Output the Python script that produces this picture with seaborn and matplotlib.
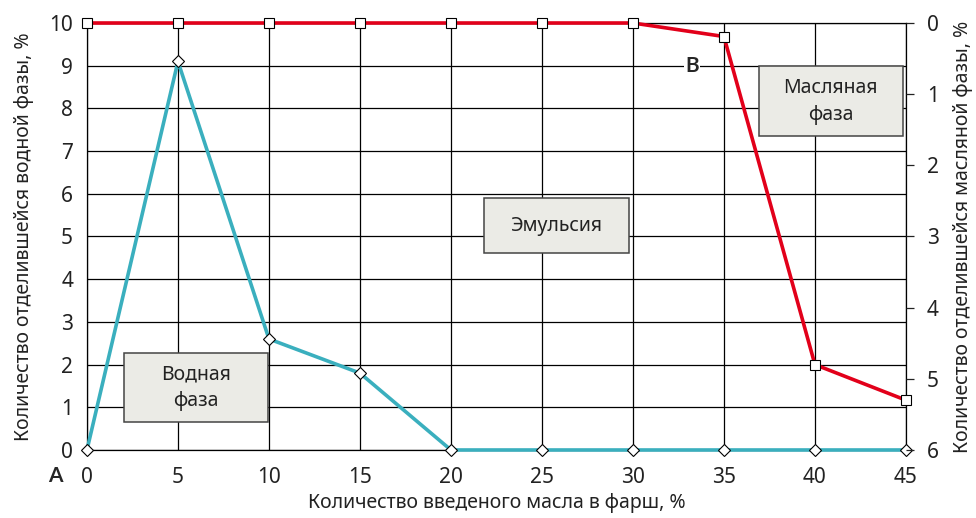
import matplotlib
matplotlib.use("Agg")
import matplotlib.pyplot as plt
import seaborn as sns
import pandas as pd
from matplotlib.patches import Rectangle

# данные графика
oil_added = [0, 5, 10, 15, 20, 25, 30, 35, 40, 45]
water_phase = [0, 9.1, 2.6, 1.8, 0, 0, 0, 0, 0, 0]
oil_phase = [0, 0, 0, 0, 0, 0, 0, 0.19, 4.8, 5.3]

left_ticks = list(range(0, 11))
right_ticks = list(range(0, 7))
x_ticks = list(range(0, 50, 5))

df = pd.DataFrame({'x': oil_added, 'water': water_phase, 'oil': oil_phase})

sns.set_style('white')
plt.rcParams['font.family'] = ['Noto Sans', 'DejaVu Sans']

cyan = '#3aafbe'
red = '#e2001a'
txt = '#222222'

fig = plt.figure(figsize=(9.76, 5.18), dpi=100)
ax = fig.add_axes([0.0891, 0.1313, 0.8391, 0.8243])

sns.lineplot(data=df, x='x', y='water', ax=ax, color=cyan, lw=2.6,
             marker='D', markersize=6, markerfacecolor='white',
             markeredgecolor='black', markeredgewidth=0.8, zorder=3, clip_on=False)

ax.set_xlim(0, 45)
ax.set_ylim(0, 10)
ax.set_xticks(x_ticks)
ax.set_yticks(left_ticks)
ax.grid(True, color='black', lw=0.9)
ax.tick_params(axis='both', length=0, labelsize=15, colors=txt)
ax.tick_params(axis='x', pad=12)
ax.tick_params(axis='y', pad=10)
for s in ax.spines.values():
    s.set_color('black')
    s.set_linewidth(0.9)
ax.set_xlabel('Количество введеного масла в фарш, %', fontsize=14, labelpad=4, color=txt)
ax.set_ylabel('Количество отделившейся водной фазы, %', fontsize=14, labelpad=11, color=txt)

ax2 = ax.twinx()
sns.lineplot(data=df, x='x', y='oil', ax=ax2, color=red, lw=2.6,
             marker='s', markersize=7.5, markerfacecolor='white',
             markeredgecolor='black', markeredgewidth=0.8, zorder=3, clip_on=False)
ax2.set_ylim(6, 0)
ax2.set_yticks(right_ticks)
ax2.tick_params(axis='y', length=6, width=0.9, direction='out', labelsize=15,
                colors=txt, pad=9)
ax2.set_ylabel('Количество отделившейся масляной фазы, %', fontsize=14,
               labelpad=10, rotation=90, color=txt)
for s in ax2.spines.values():
    s.set_visible(False)

# подписи областей
boxes = [
    ((2.04, 0.66), 7.92, 1.61, 'Водная\nфаза'),
    ((21.8, 4.61), 7.96, 1.29, 'Эмульсия'),
    ((36.9, 7.35), 7.93, 1.64, 'Масляная\nфаза'),
]
for (bx, by), w, h, label in boxes:
    ax.add_patch(Rectangle((bx, by), w, h, facecolor='#ebebe6', edgecolor='#444444',
                           lw=1.1, zorder=4))
    ax.text(bx + w / 2, by + h / 2, label, ha='center', va='center', fontsize=14,
            linespacing=1.45, color=txt, zorder=5)

bold_font = ['Lato', 'DejaVu Sans']
ax.text(33.24, 9.0, 'B', ha='center', va='center', fontsize=15, fontweight='bold',
        family=bold_font, zorder=5, bbox=dict(facecolor='white', edgecolor='none', pad=1))
ax.text(-0.039, -0.061, 'A', transform=ax.transAxes, ha='center', va='center',
        fontsize=15, fontweight='bold', family=bold_font)

fig.savefig('out.png', dpi=100)
